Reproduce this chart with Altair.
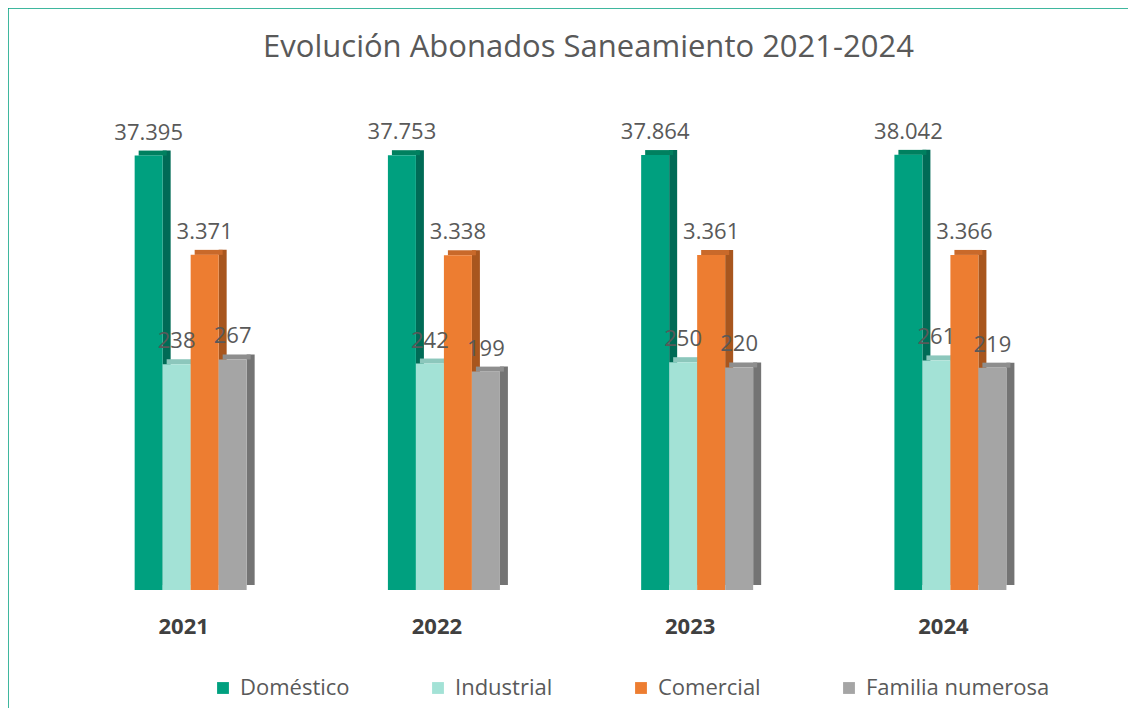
import altair as alt
import pandas as pd

years = ["2021", "2022", "2023", "2024"]
series = ["Doméstico", "Industrial", "Comercial", "Familia numerosa"]
domestico = [37395, 37753, 37864, 38042]
industrial = [238, 242, 250, 261]
comercial = [3371, 3338, 3361, 3366]
familia = [267, 199, 220, 219]

front_colors = ["#00A07F", "#A3E2D6", "#ED7D31", "#A5A5A5"]
side_colors = ["#006B56", "#7DB3A9", "#A8561E", "#747474"]
top_colors = ["#00805F", "#8CC7BC", "#C9692A", "#8E8E8E"]

rows = []
for i, y in enumerate(years):
    for s, vals in zip(series, [domestico, industrial, comercial, familia]):
        v = vals[i]
        rows.append({"year": y, "series": s, "value": v,
                     "label": f"{v:,}".replace(",", ".")})
df = pd.DataFrame(rows)

FONT = "Open Sans"
W, H = 1013, 475

x = alt.X("year:N", sort=years,
          scale=alt.Scale(paddingInner=0.558, paddingOuter=0.279),
          axis=alt.Axis(title=None, labelAngle=0, domain=False, ticks=False,
                        labelFontSize=22, labelFontWeight="bold", labelFont=FONT,
                        labelColor="#404040", labelPadding=26, labelOffset=-7))


def xo(shift):
    return alt.XOffset("series:N", sort=series,
                       scale=alt.Scale(paddingInner=0, paddingOuter=0,
                                       range=[shift, 112 + shift]))


xo_text = alt.XOffset("series:N", sort=series,
                      scale=alt.Scale(type="point", padding=0, range=[14, 98]))

yscale = alt.Scale(type="log", domain=[1, 100000])
y = alt.Y("value:Q", scale=yscale, axis=None)
y2 = alt.Y2(datum=1)

base = alt.Chart(df)

side = base.mark_bar(width=8, yOffset=-5, y2Offset=-5).encode(
    x=x, xOffset=xo(18), y=y, y2=y2,
    color=alt.Color("series:N", sort=series,
                    scale=alt.Scale(domain=series, range=side_colors), legend=None))

top = base.mark_bar(width=28, yOffset=-5, y2Offset=0).encode(
    x=x, xOffset=xo(4), y=y, y2=alt.Y2("value:Q"),
    color=alt.Color("series:N", sort=series,
                    scale=alt.Scale(domain=series, range=top_colors), legend=None))

front = base.mark_bar(width=28).encode(
    x=x, xOffset=xo(0), y=y, y2=y2,
    color=alt.Color("series:N", sort=series,
                    scale=alt.Scale(domain=series, range=front_colors),
                    legend=alt.Legend(title=None, orient="none", legendX=148, legendY=562,
                                      direction="horizontal", columns=4,
                                      symbolType="square", symbolSize=140,
                                      labelFontSize=22, labelFont=FONT, labelColor="#595959",
                                      columnPadding=77, labelOffset=6, labelLimit=400)))

labels = base.mark_text(baseline="bottom", dy=-11, fontSize=22, font=FONT,
                        color="#595959").encode(
    x=x, xOffset=xo_text, y=y, text="label:N")

border = alt.Chart(pd.DataFrame({"a": [0]})).mark_rect(
    fill=None, stroke="#00A07F", strokeWidth=2.5).encode(
    x=alt.value(-56.5), x2=alt.value(1080), y=alt.value(-107.5), y2=alt.value(700))

chart = alt.layer(border, side, top, front, labels).resolve_scale(
    color="independent", xOffset="independent"
).properties(
    width=W, height=H,
    autosize=alt.AutoSizeParams(type="none"),
    padding={"left": 56, "top": 107, "right": 51, "bottom": 118},
    title=alt.TitleParams("Evolución Abonados Saneamiento 2021-2024", fontSize=31,
                          font=FONT, fontWeight="normal", color="#595959",
                          offset=-58, dx=18, anchor="middle", frame="group"),
).configure_view(stroke=None)

chart.save("out.html", embed_options={"renderer": "svg", "actions": False})
